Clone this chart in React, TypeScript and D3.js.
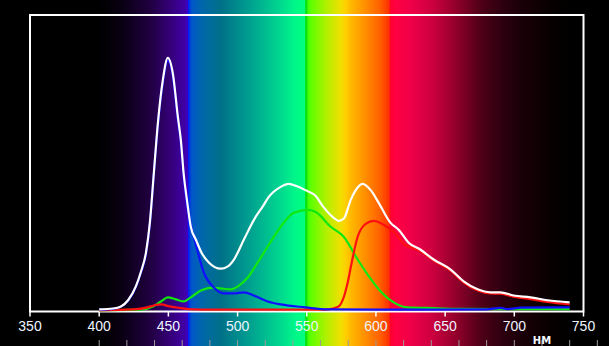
import React from "react";
import * as d3 from "d3";

const W = 609;
const H = 346;

// Spectrum colour ramp (nm → colour)
const spectrumNm = [400, 415, 437, 452, 462, 463.8, 464.3, 465, 467, 475, 488, 509, 531, 542, 548.5, 549.2, 549.9, 551, 553, 564, 574.5, 578, 582, 592, 603, 609.5, 610.5, 614, 625, 639.5, 654, 675.6, 690, 704.5, 726, 740];
const spectrumColor = ["#000000", "#080010", "#200040", "#35007a", "#4000a8", "#3a00c0", "#0010ff", "#0030e0", "#0058c8", "#0068a8", "#007088", "#00a090", "#00d890", "#00f888", "#00ff80", "#10e010", "#10e010", "#40ff00", "#60ff00", "#b0f000", "#f0e000", "#ffd000", "#ffb800", "#ff9000", "#ff6000", "#ff3000", "#ff0030", "#ff0040", "#f00048", "#d00040", "#a00030", "#500018", "#300010", "#1a0008", "#080000", "#000000"];

const xTicks = [350, 400, 450, 500, 550, 600, 650, 700, 750];
const minorTicks = d3.range(400, 761, 20);
const unitLabel = "НМ";
const unitAt = 720;

const whiteNm = [400, 410, 415.7, 421, 426.5, 430, 433.8, 436.6, 439.5, 442.4, 446, 449.6, 453.3, 456.9, 459, 461, 463.4, 466.2, 469.9, 474, 479.2, 487.9, 492.7, 497.4, 504.5, 513.2, 518, 522.6, 531.2, 537, 543, 549, 556.5, 562, 569.5, 573, 576.7, 581.8, 585.4, 590.4, 596.2, 602, 610.6, 616.4, 623.6, 632.3, 641.7, 654, 663.4, 673.5, 682.8, 690, 699.5, 711.7, 724, 740];
const whiteVal = [0.003, 0.006, 0.013, 0.035, 0.081, 0.128, 0.195, 0.296, 0.465, 0.633, 0.78, 0.855, 0.8, 0.653, 0.576, 0.465, 0.374, 0.283, 0.239, 0.195, 0.162, 0.141, 0.148, 0.172, 0.239, 0.317, 0.35, 0.384, 0.418, 0.428, 0.42, 0.407, 0.387, 0.35, 0.313, 0.303, 0.31, 0.374, 0.407, 0.428, 0.407, 0.364, 0.296, 0.273, 0.229, 0.205, 0.172, 0.138, 0.098, 0.071, 0.061, 0.061, 0.05, 0.044, 0.034, 0.027];

const redNm = [400, 425, 435, 440, 445, 450, 458, 468, 480, 560, 567, 573, 576.7, 579.6, 582.5, 586.8, 592.6, 598.4, 605.6, 612.8, 620, 632.3, 641.7, 654, 663.4, 673.5, 682.8, 690, 699.5, 711.7, 724, 740];
const redVal = [0, 0.003, 0.01, 0.017, 0.02, 0.014, 0.008, 0.003, 0.002, 0.002, 0.004, 0.013, 0.044, 0.094, 0.162, 0.249, 0.293, 0.303, 0.29, 0.266, 0.226, 0.2, 0.168, 0.134, 0.094, 0.067, 0.057, 0.056, 0.046, 0.038, 0.028, 0.02];

const greenNm = [400, 430, 438.8, 444.6, 449.6, 455.4, 461.2, 466.2, 473.5, 482.1, 487.9, 495.1, 500.2, 507.4, 514.6, 522.6, 531.2, 540.6, 550.7, 556.5, 567.3, 576.7, 586.8, 594, 603.4, 612.8, 622.9, 637.4, 660, 700, 740];
const greenVal = [0, 0.002, 0.013, 0.03, 0.044, 0.037, 0.03, 0.044, 0.067, 0.077, 0.074, 0.071, 0.081, 0.111, 0.162, 0.222, 0.283, 0.33, 0.34, 0.333, 0.283, 0.249, 0.172, 0.121, 0.064, 0.027, 0.01, 0.008, 0.005, 0.004, 0.004];

const blueNm = [400, 410, 415.7, 421, 426.5, 430, 433.8, 436.6, 439.5, 442.4, 446, 449.6, 453.3, 456.9, 459, 461, 463.4, 466.2, 470, 475.6, 482.9, 490, 497.3, 504.5, 511.7, 521.8, 531.2, 549, 565, 600, 640, 680, 690, 695, 705, 740];
const blueVal = [0.002, 0.005, 0.012, 0.033, 0.079, 0.125, 0.19, 0.29, 0.46, 0.625, 0.77, 0.845, 0.79, 0.645, 0.57, 0.46, 0.36, 0.29, 0.22, 0.128, 0.077, 0.057, 0.057, 0.061, 0.05, 0.03, 0.02, 0.01, 0.003, 0.002, 0.002, 0.003, 0.008, 0.004, 0.009, 0.01];

const series = [
  { nm: greenNm, val: greenVal, color: "#10e810" },
  { nm: redNm, val: redVal, color: "#ff1010" },
  { nm: blueNm, val: blueVal, color: "#1010ff" },
  { nm: whiteNm, val: whiteVal, color: "#ffffff" },
];

export default function App() {
  const left = 30;
  const right = 583.5;
  const top = 15;
  const axisY = 311.5;

  const x = d3.scaleLinear().domain([350, 750]).range([left, right]);
  const y = d3.scaleLinear().domain([0, 1]).range([310.3, top]);

  const line = d3
    .line<[number, number]>()
    .x((d) => x(d[0]))
    .y((d) => y(d[1]))
    .curve(d3.curveMonotoneX);

  const x400 = x(400);
  const x740 = x(740);

  return (
    <svg
      width={W}
      height={H}
      style={{ position: "absolute", left: 0, top: 0, display: "block" }}
    >
      <defs>
        <linearGradient
          id="spec"
          gradientUnits="userSpaceOnUse"
          x1={x400}
          x2={x740}
          y1={0}
          y2={0}
        >
          {spectrumNm.map((nm, i) => (
            <stop
              key={i}
              offset={(nm - 400) / (740 - 400)}
              stopColor={spectrumColor[i]}
            />
          ))}
        </linearGradient>
      </defs>
      <rect x={0} y={0} width={W} height={H} fill="#000" />
      <rect x={0} y={0} width={W} height={H} fill="url(#spec)" />

      {/* frame */}
      <rect
        x={left}
        y={top}
        width={right - left}
        height={axisY - top}
        fill="none"
        stroke="#fff"
        strokeWidth={2}
      />

      {/* major ticks & labels */}
      {xTicks.map((t) => (
        <g key={t}>
          <line
            x1={x(t)}
            x2={x(t)}
            y1={axisY}
            y2={axisY + 5}
            stroke="#fff"
            strokeWidth={1.5}
          />
          <text
            x={x(t)}
            y={331}
            textAnchor="middle"
            fill="#eef4ff"
            fontFamily="'Liberation Sans', Arial, sans-serif"
            fontSize={14}
          >
            {t}
          </text>
        </g>
      ))}

      {/* bottom minor ticks */}
      {minorTicks.map((t) => (
        <line
          key={t}
          x1={x(t)}
          x2={x(t)}
          y1={340}
          y2={346}
          stroke="#9a9a9a"
          strokeWidth={1}
        />
      ))}
      <text
        x={x(unitAt)}
        y={343.5}
        textAnchor="middle"
        fill="#f4f8ff"
        fontFamily="'DejaVu Sans', sans-serif"
        fontWeight="bold"
        fontSize={10}
      >
        {unitLabel}
      </text>

      {/* curves */}
      {series.map((s, i) => (
        <path
          key={i}
          d={line(s.nm.map((n, j) => [n, s.val[j]] as [number, number])) || ""}
          fill="none"
          stroke={s.color}
          strokeWidth={2.2}
          strokeLinejoin="round"
        />
      ))}
    </svg>
  );
}
